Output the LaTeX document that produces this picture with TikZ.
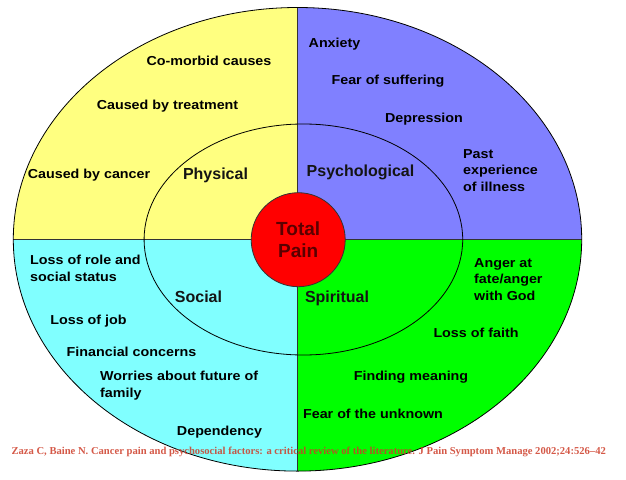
\documentclass[tikz,border=0pt]{standalone}
\usepackage{fontspec}
\setmainfont{Liberation Sans}
\newfontfamily\itemfont[FakeStretch=1.1]{Liberation Sans}
\newfontfamily\citefont{Liberation Serif}
\definecolor{qyellow}{RGB}{255,255,128}
\definecolor{qblue}{RGB}{128,128,255}
\definecolor{qcyan}{RGB}{128,255,255}
\definecolor{qgreen}{RGB}{0,255,0}
\definecolor{qred}{RGB}{255,0,0}
\definecolor{pain}{RGB}{90,0,0}
\definecolor{citec}{RGB}{205,60,40}
\begin{document}
\begin{tikzpicture}[x=1pt,y=-1pt,
  itemtext/.style={font=\itemfont\bfseries\fontsize{13}{16.5}\selectfont, inner sep=0pt, text=black},
  itemleft/.style={itemtext, align=left, anchor=north west},
  bigtext/.style={font=\bfseries\fontsize{16}{18}\selectfont, inner sep=0pt, text=black!92},
  ringline/.style={draw=black, line width=0.8pt}]
\useasboundingbox (0,0) rectangle (626,479);
\coordinate (c) at (297.5,239.3);
% quadrants
\begin{scope}
  \clip (c) ellipse [x radius=284.2, y radius=231.8];
  \fill[qyellow] (0,0) rectangle (c);
  \fill[qblue] (626,0) rectangle (c);
  \fill[qcyan] (0,479) rectangle (c);
  \fill[qgreen] (626,479) rectangle (c);
\end{scope}
\coordinate (top) at (297.5,7.4);
\coordinate (bot) at (297.5,471.1);
\coordinate (lft) at (13.3,239.3);
\coordinate (rgt) at (581.7,239.3);
\draw[line width=0.7pt, black!80] (top) -- (bot);
\draw[line width=0.7pt, black!80] (lft) -- (rgt);
\draw[ringline] (c) ellipse [x radius=284.2, y radius=231.8];
\draw[ringline] (303.4,239.5) ellipse [x radius=159.3, y radius=115.5];
% centre
\node[circle, fill=qred, draw=black!80, line width=0.8pt, minimum size=94pt, inner sep=0pt,
  font=\bfseries\fontsize{19}{22}\selectfont, text=pain, align=center] (tp) at (298.2,239.7) {Total\\Pain};
% section labels
\node[bigtext] (phys) at (215.5,175.5) {Physical};
\node[bigtext] (psy) at (360.5,172.5) {Psychological};
\node[bigtext] (soc) at (198.5,297) {Social};
\node[bigtext] (spi) at (337,298) {Spiritual};
% physical
\node[itemtext] (p1) at (209,61) {Co-morbid causes};
\node[itemtext] (p2) at (167.5,106) {Caused by treatment};
\node[itemtext] (p3) at (89,175) {Caused by cancer};
% psychological
\node[itemtext] (s1) at (334.5,44) {Anxiety};
\node[itemtext] (s2) at (388,81) {Fear of suffering};
\node[itemtext] (s3) at (424,119) {Depression};
\node[itemleft] (s4) at (463,149) {Past\\experience\\of illness};
% social
\node[itemleft] (o1) at (30,255) {Loss of role and\\social status};
\node[itemtext] (o2) at (88.5,321) {Loss of job};
\node[itemtext] (o3) at (131.5,352) {Financial concerns};
\node[itemleft] (o4) at (100,371) {Worries about future of\\family};
\node[itemtext] (o5) at (219.5,432) {Dependency};
% spiritual
\node[itemleft] (r1) at (474,258) {Anger at\\fate/anger\\with God};
\node[itemtext] (r2) at (476,333) {Loss of faith};
\node[itemtext] (r3) at (411,377) {Finding meaning};
\node[itemtext] (r4) at (373,414) {Fear of the unknown};
% citation
\node[font=\citefont\bfseries\fontsize{10.6}{12}\selectfont, text=citec, text opacity=0.85, inner sep=0pt]
  (cite) at (308.7,451.5) {Zaza C, Baine N. Cancer pain and psychosocial factors: a critical review of the literature. J Pain Symptom Manage 2002;24:526–42};
\end{tikzpicture}
\end{document}
